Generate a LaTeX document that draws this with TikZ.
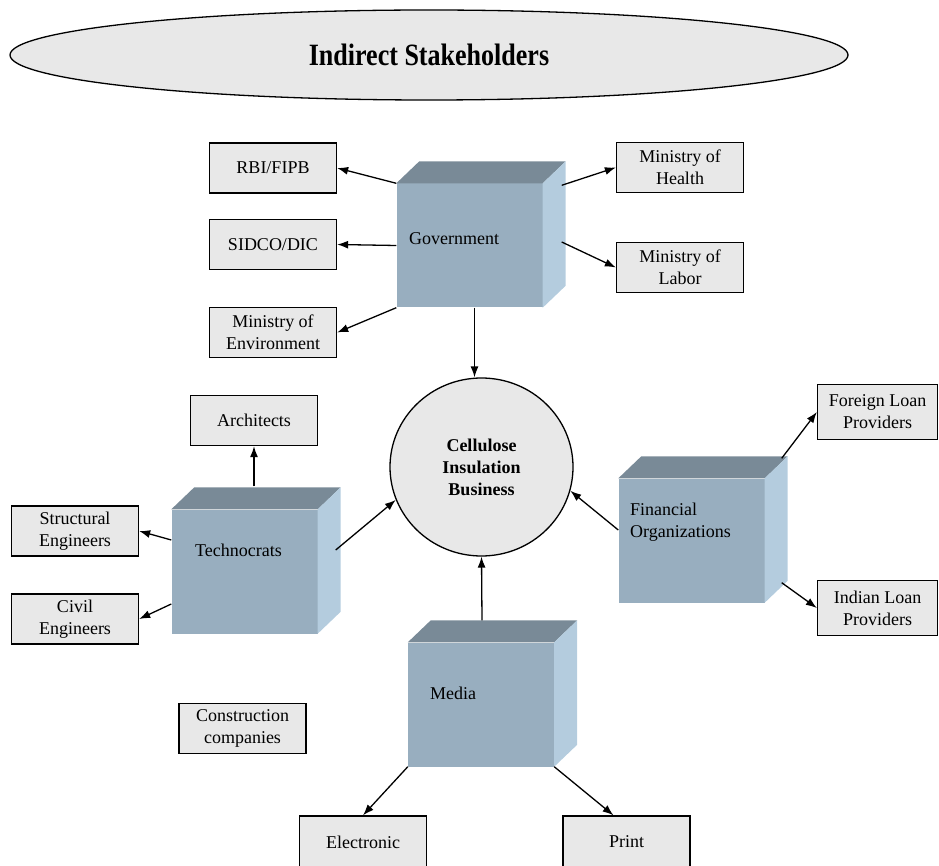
\documentclass[tikz,border=0pt]{standalone}
\usepackage{fontspec}
\setmainfont{Liberation Serif}
\usetikzlibrary{arrows.meta,shapes.geometric}
\definecolor{boxgray}{RGB}{232,232,232}
\definecolor{cubefront}{RGB}{152,174,191}
\definecolor{cubetop}{RGB}{121,138,151}
\definecolor{cubeside}{RGB}{180,204,222}
\begin{document}
\begin{tikzpicture}[x=1pt,y=-1pt,
  box/.style={draw,fill=boxgray,line width=1.3pt,minimum width=127pt,minimum height=50pt,
    inner sep=2pt,align=center,font=\fontsize{18}{22}\selectfont},
  cube/.style={fill=cubefront,minimum width=146pt,minimum height=124pt,inner sep=0pt},
  cubetext/.style={anchor=west,inner sep=0pt,align=left,font=\fontsize{18}{22}\selectfont},
  arr/.style={-{Latex[length=11pt,width=8pt]},line width=1.3pt}]
  \useasboundingbox (0,0) rectangle (939,866);
  \node[ellipse,draw,fill=boxgray,line width=1.3pt,minimum width=838pt,minimum height=90pt]
      (title) at (429,55) {\fontsize{31}{31}\selectfont\bfseries\scalebox{0.84}[1]{Indirect Stakeholders}};
  \node[ellipse,draw,fill=boxgray,line width=1.3pt,minimum width=183pt,minimum height=178pt,
      align=center,font=\fontsize{18}{22}\selectfont\bfseries] (bus) at (481.5,467) {Cellulose\\Insulation\\Business};
  % the four blocks
  \node[cube] (gov) at (469.5,245.5) {};
  \node[cube] (tech) at (244.5,571.5) {};
  \node[cube] (fin) at (691.5,540.5) {};
  \node[cube] (media) at (481,704.5) {};
  \foreach \c in {gov,tech,fin,media}{
    \fill[cubetop] (\c.north west) -- ++(23,-22) -- ([shift={(23,-22)}]\c.north east) -- (\c.north east) -- cycle;
    \fill[cubeside] (\c.north east) -- ++(23,-22) -- ([shift={(23,-22)}]\c.south east) -- (\c.south east) -- cycle;
  }
  \node[cubetext] (govtxt) at (409,239) {Government};
  \node[cubetext] (techtxt) at (195,550) {Technocrats};
  \node[cubetext] (fintxt) at (630,522) {Financial\\Organizations};
  \node[cubetext] (mediatxt) at (430,693) {Media};
  % boxes
  \node[box] (rbi) at (273,168) {RBI/FIPB};
  \node[box] (sidco) at (273,244.5) {SIDCO/DIC};
  \node[box] (env) at (273,332.5) {Ministry of\\Environment};
  \node[box] (health) at (680,167.5) {Ministry of\\Health};
  \node[box] (labor) at (680,267.5) {Ministry of\\Labor};
  \node[box] (arch) at (254,420.5) {Architects};
  \node[box] (struct) at (75,531) {Structural\\Engineers};
  \node[box] (civil) at (75,619) {Civil\\Engineers};
  \node[box] (constr) at (242.5,728.5) {Construction\\companies};
  \node[box,minimum width=120pt,minimum height=55pt] (foreign) at (877.5,412) {Foreign Loan\\Providers};
  \node[box,minimum width=120pt,minimum height=55pt] (indian) at (877.5,608) {Indian Loan\\Providers};
  \node[box,minimum height=52pt] (elec) at (363,842) {Electronic};
  \node[box,minimum height=52pt] (print) at (626.5,842) {Print};
  % arrows
  \draw[arr] (gov.north west) -- (rbi.east);
  \draw[arr] (gov.west) -- (sidco.east);
  \draw[arr] (gov.south west) -- (env.east);
  \draw[arr] ([shift={(19,2)}]gov.north east) -- (health.west);
  \draw[arr] ([shift={(19,-3.5)}]gov.east) -- (labor.west);
  \draw[arr] ([xshift=5pt]gov.south) -- ([xshift=5pt]gov.south |- bus.north);
  \draw[arr] ([shift={(9.5,-23)}]tech.north) -- (arch.south);
  \draw[arr] ([shift={(0,-31.5)}]tech.west) -- (struct.east);
  \draw[arr] ([shift={(0,32.5)}]tech.west) -- (civil.east);
  \draw[arr] ([shift={(18,-21.5)}]tech.east) -- (bus.201);
  \draw[arr] ([shift={(0,-10.5)}]fin.west) -- (bus.345);
  \draw[arr] ([shift={(17,-20)}]fin.north east) -- (foreign.west);
  \draw[arr] ([shift={(17,-20)}]fin.south east) -- (indian.west);
  \draw[arr] ([shift={(1,-22)}]media.north) -- (bus.south);
  \draw[arr] (media.south west) -- (elec.north);
  \draw[arr] (media.south east) -- ([xshift=-13pt]print.north);
\end{tikzpicture}
\end{document}
